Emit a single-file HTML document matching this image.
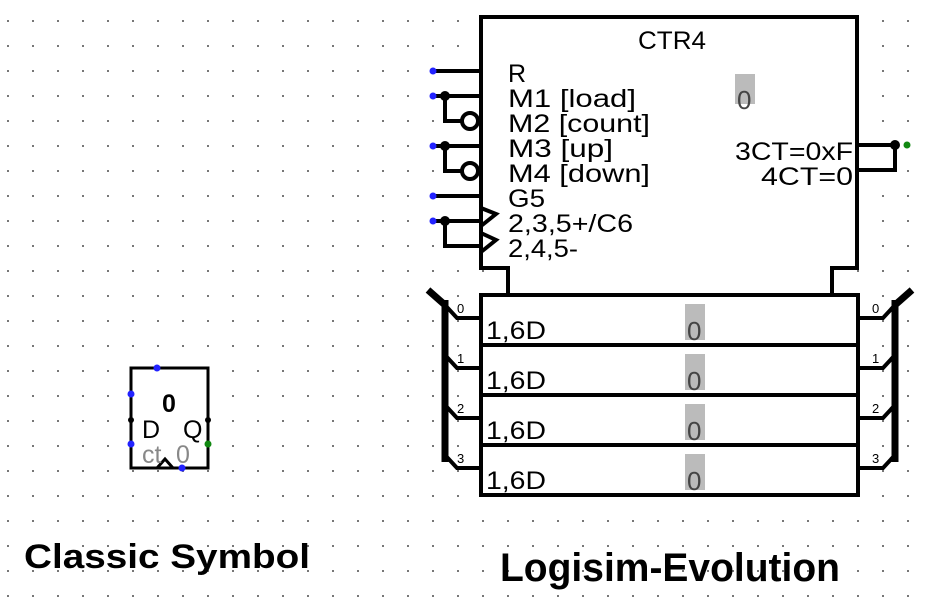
<!DOCTYPE html>
<html><head><meta charset="utf-8"><style>html,body{margin:0;padding:0;background:#fff}svg{display:block}</style></head><body>
<svg width="927" height="604" viewBox="0 0 927 604" xmlns="http://www.w3.org/2000/svg" font-family="Liberation Sans, sans-serif">
<defs><pattern id="g" x="7" y="20" width="25" height="25" patternUnits="userSpaceOnUse"><rect width="2" height="2" fill="#777"/></pattern></defs>
<rect width="927" height="604" fill="#fff"/>
<rect width="927" height="604" fill="url(#g)"/>
<g stroke="#000" stroke-width="4" fill="none">
<path d="M508,295 V268 H481 V17 H857 V268 H832 V295" fill="#fff"/>
<rect x="481" y="295" width="377" height="200" fill="#fff"/>
<line x1="481" y1="345" x2="858" y2="345"/>
<line x1="481" y1="395" x2="858" y2="395"/>
<line x1="481" y1="445" x2="858" y2="445"/>
<path d="M433,71 H481"/>
<path d="M433,96 H481 M445,96 V121 H462"/>
<path d="M433,146 H481 M445,146 V171 H462"/>
<path d="M433,196 H481"/>
<path d="M433,221 H481 M445,221 V246 H481"/>
<path d="M481,208 L496,214 L481,226 M481,233 L496,240 L481,252"/>
<path d="M857,145 H895 V170 H857"/>
<line x1="445" y1="300" x2="445" y2="462" stroke-width="7"/>
<path d="M428,290 L445,305" stroke-width="7"/>
<path d="M445,305 L457,318 H481 M445,355 L457,368 H481 M445,405 L457,418 H481 M445,455 L457,468 H481"/>
<line x1="895" y1="300" x2="895" y2="462" stroke-width="7"/>
<path d="M912,290 L895,305" stroke-width="7"/>
<path d="M895,305 L883,318 H858 M895,355 L883,368 H858 M895,405 L883,418 H858 M895,455 L883,468 H858"/>
</g>
<circle cx="470" cy="121" r="8" fill="#fff" stroke="#000" stroke-width="4"/>
<circle cx="470" cy="171" r="8" fill="#fff" stroke="#000" stroke-width="4"/>
<g fill="#000"><circle cx="445" cy="96" r="5"/><circle cx="445" cy="146" r="5"/><circle cx="445" cy="221" r="5"/><circle cx="895" cy="145" r="5"/></g>
<g fill="#2222ff"><circle cx="433" cy="71" r="3.5"/><circle cx="433" cy="96" r="3.5"/><circle cx="433" cy="146" r="3.5"/><circle cx="433" cy="196" r="3.5"/><circle cx="433" cy="221" r="3.5"/></g>
<circle cx="907" cy="145" r="3.5" fill="#118811"/>
<g font-size="25" fill="#000" lengthAdjust="spacingAndGlyphs">
<text x="638" y="49" textLength="68" lengthAdjust="spacingAndGlyphs">CTR4</text>
<text x="508" y="82">R</text>
<text x="508" y="107" textLength="128" lengthAdjust="spacingAndGlyphs">M1 [load]</text>
<text x="508" y="132" textLength="142" lengthAdjust="spacingAndGlyphs">M2 [count]</text>
<text x="508" y="157" textLength="105" lengthAdjust="spacingAndGlyphs">M3 [up]</text>
<text x="508" y="182" textLength="142" lengthAdjust="spacingAndGlyphs">M4 [down]</text>
<text x="508" y="207" textLength="37" lengthAdjust="spacingAndGlyphs">G5</text>
<text x="508" y="232" textLength="125" lengthAdjust="spacingAndGlyphs">2,3,5+/C6</text>
<text x="508" y="257" textLength="70" lengthAdjust="spacingAndGlyphs">2,4,5-</text>
<text x="853" y="160" text-anchor="end" textLength="118" lengthAdjust="spacingAndGlyphs">3CT=0xF</text>
<text x="853" y="185" text-anchor="end" textLength="92" lengthAdjust="spacingAndGlyphs">4CT=0</text>
<text x="486" y="339" textLength="60" lengthAdjust="spacingAndGlyphs">1,6D</text><text x="486" y="389" textLength="60" lengthAdjust="spacingAndGlyphs">1,6D</text><text x="486" y="439" textLength="60" lengthAdjust="spacingAndGlyphs">1,6D</text><text x="486" y="489" textLength="60" lengthAdjust="spacingAndGlyphs">1,6D</text>
</g>
<g fill="#bbb"><rect x="735" y="74" width="20" height="30"/><rect x="685" y="304" width="20" height="36"/><rect x="685" y="354" width="20" height="36"/><rect x="685" y="404" width="20" height="36"/><rect x="685" y="454" width="20" height="36"/></g>
<g font-size="26" fill="#444"><text x="737" y="109">0</text><text x="687" y="340">0</text><text x="687" y="390">0</text><text x="687" y="440">0</text><text x="687" y="490">0</text></g>
<g font-size="13" fill="#000"><text x="457" y="313">0</text><text x="457" y="363">1</text><text x="457" y="413">2</text><text x="457" y="463">3</text>
<text x="872" y="313">0</text><text x="872" y="363">1</text><text x="872" y="413">2</text><text x="872" y="463">3</text></g>
<rect x="131" y="368" width="77" height="100" fill="#fff" stroke="#000" stroke-width="3"/>
<path d="M157,468 L165,459 L173,468" fill="none" stroke="#000" stroke-width="3"/>
<text x="162" y="412" font-size="25" font-weight="bold">0</text>
<text x="142" y="438" font-size="25">D</text>
<text x="183" y="438" font-size="25">Q</text>
<text x="142" y="463" font-size="25" fill="#888">ct</text>
<text x="176" y="463" font-size="25" fill="#888">0</text>
<g fill="#000"><circle cx="131" cy="420" r="3"/><circle cx="208" cy="420" r="3"/></g>
<g fill="#2222ff"><circle cx="157" cy="368" r="3.5"/><circle cx="131" cy="394" r="3.5"/><circle cx="131" cy="444" r="3.5"/><circle cx="182" cy="468" r="3.5"/></g>
<circle cx="208" cy="444" r="3.5" fill="#118811"/>
<text x="24" y="568" font-size="34" font-weight="bold" textLength="286" lengthAdjust="spacingAndGlyphs">Classic Symbol</text>
<text x="500" y="581" font-size="40" font-weight="bold" textLength="340" lengthAdjust="spacingAndGlyphs">Logisim-Evolution</text>
</svg>
</body></html>
